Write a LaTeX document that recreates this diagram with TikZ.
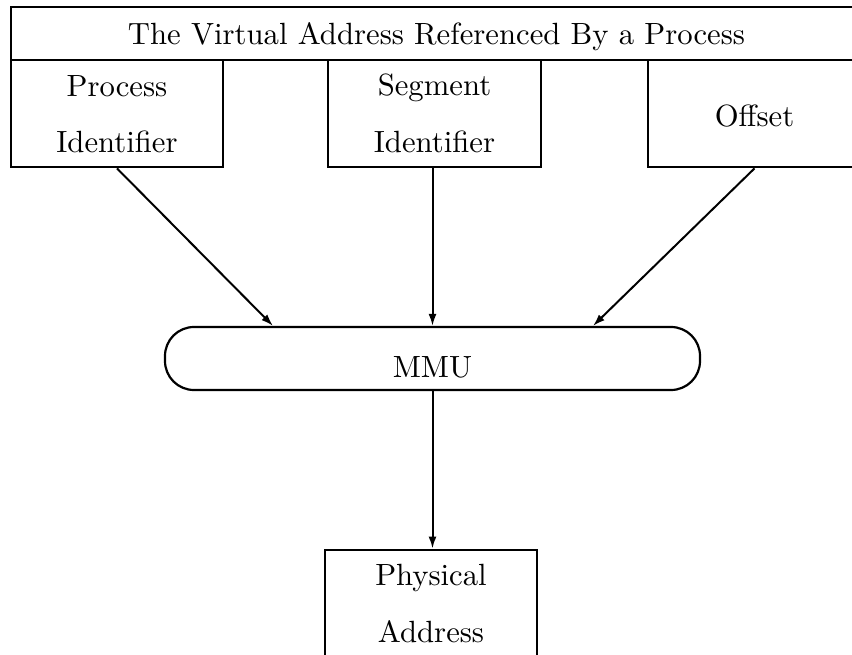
\documentclass[tikz,border=0pt]{standalone}
\usetikzlibrary{arrows.meta}
\begin{document}
\begin{tikzpicture}[x=1pt,y=-1pt,
  box/.style={draw, line width=2.8pt, inner sep=0pt, minimum width=#1},
  txt/.style={anchor=base, inner sep=0pt, scale=3.07, font=\fontsize{10}{12}\selectfont},
  arr/.style={line width=2pt, -{Latex[length=12pt,width=8pt]}},
  mmubox/.style={draw, line width=2.2pt, rounded corners=29pt, inner sep=0pt}]
\clip (0,0) rectangle (852,655);
\fill[white] (0,0) rectangle (852,655);
% title
\node[box=850, minimum height=53] (title) at (436,33.5) {};
\node[txt] (titletxt) at (436.5,45) {The Virtual Address Referenced By a Process};
% three fields
\node[box=212, minimum height=107] (pid) at (117,113.5) {};
\node[txt] (pidA) at (117,97) {Process};
\node[txt] (pidB) at (117,153) {Identifier};
\node[box=213, minimum height=107] (sid) at (434.5,113.5) {};
\node[txt] (sidA) at (434.5,96) {Segment};
\node[txt] (sidB) at (434.5,153) {Identifier};
\node[box=213, minimum height=107] (off) at (754.5,113.5) {};
\node[txt] (offA) at (754.5,127) {Offset};
% MMU
\node[mmubox, minimum width=535, minimum height=63] (mmu) at (432.5,358.5) {};
\node[txt] (mmutxt) at (432.5,377) {MMU};
% physical address
\node[box=212, minimum height=110] (pa) at (431,605) {};
\node[txt] (paA) at (431,585) {Physical};
\node[txt] (paB) at (431,642) {Address};
% arrows
\draw[arr] (pid.south) -- ([xshift=-159.5pt]mmu.north);
\draw[arr] (sid.south -| mmu.north) -- (mmu.north);
\draw[arr] (off.south) -- ([xshift=160.5pt]mmu.north);
\draw[arr] (mmu.south) -- (pa.north -| mmu.south);
\end{tikzpicture}
\end{document}
